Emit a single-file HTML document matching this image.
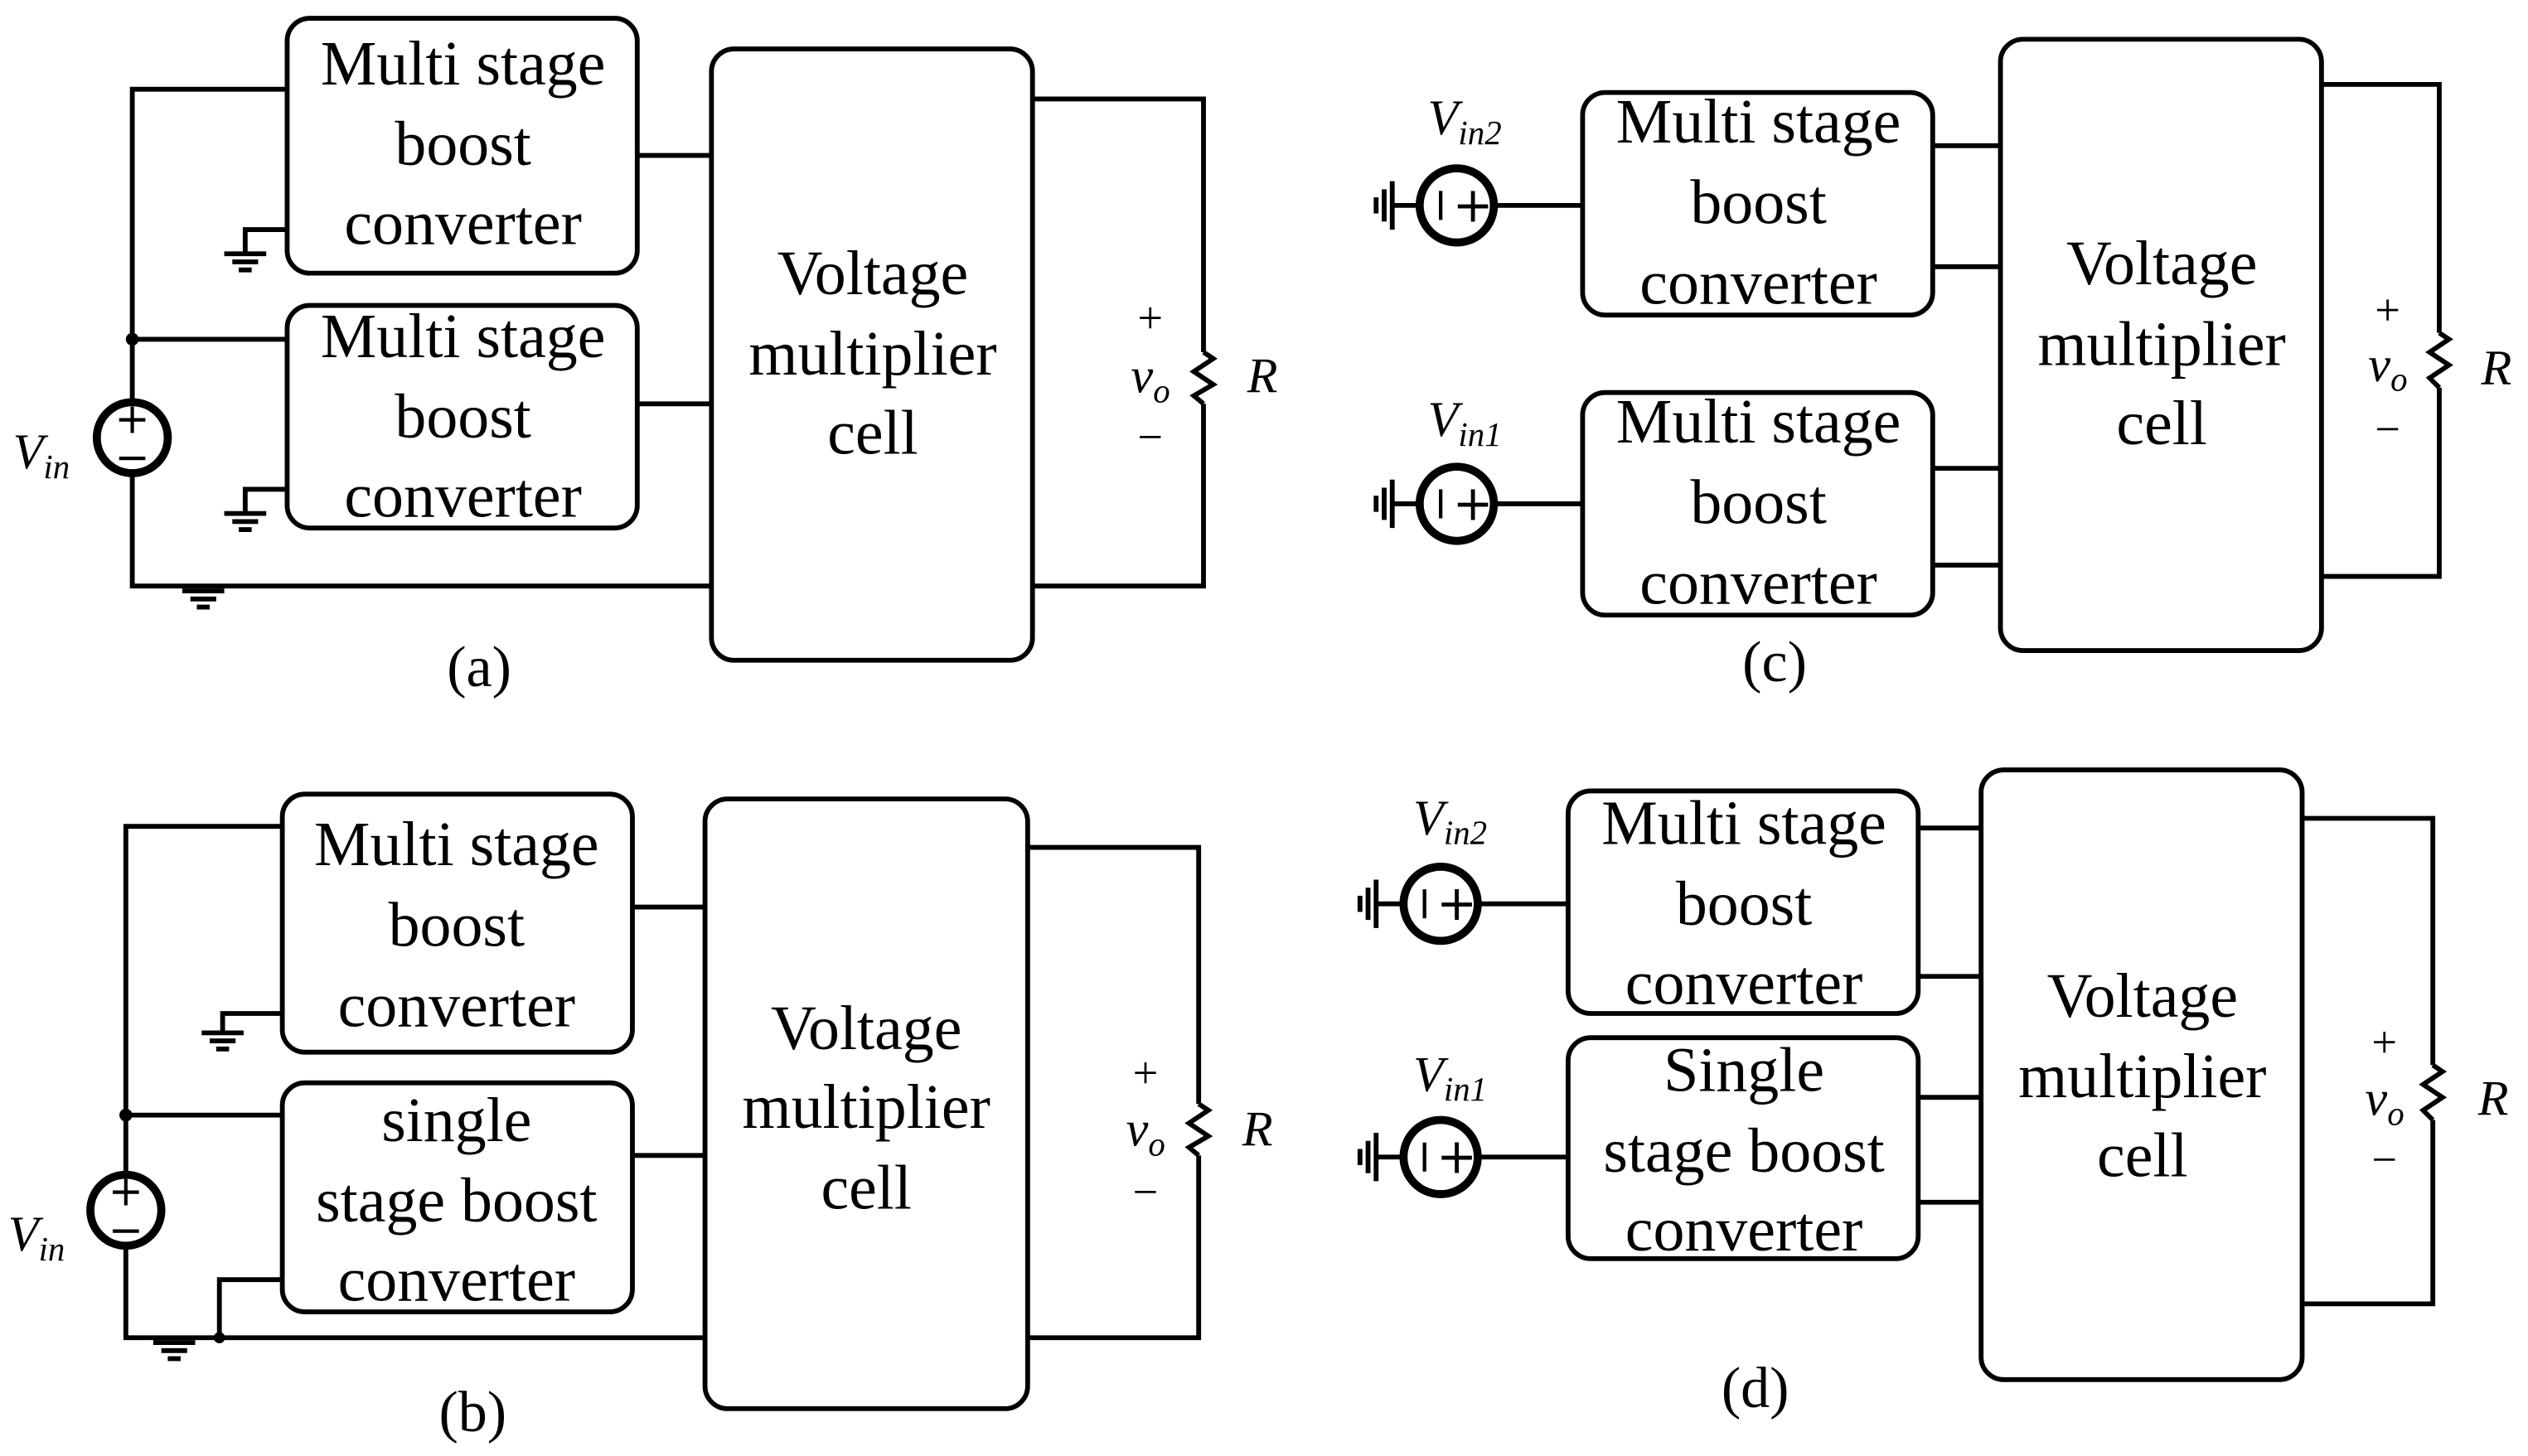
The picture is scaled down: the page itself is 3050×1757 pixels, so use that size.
<!DOCTYPE html>
<html><head><style>html,body{margin:0;padding:0;background:#fff}svg{display:block}</style></head>
<body>
<svg width="3050" height="1757" viewBox="0 0 1567 902" xmlns="http://www.w3.org/2000/svg" font-family="'Liberation Serif',serif">
<defs>
<g id="gnd"><line x1="-13" y1="0" x2="13" y2="0"/><line x1="-8" y1="5" x2="8" y2="5"/><line x1="-4" y1="10" x2="4" y2="10"/></g>
<g id="lg"><line x1="0" y1="-15" x2="0" y2="15"/><line x1="-5" y1="-10" x2="-5" y2="10"/><line x1="-10" y1="-5" x2="-10" y2="5"/></g>
</defs>
<g fill="none" stroke="#000" stroke-width="3">
<!-- (a) -->
<rect x="178" y="11" width="217" height="158" rx="14"/>
<rect x="178" y="189" width="217" height="138" rx="14"/>
<rect x="441" y="30" width="199" height="379" rx="14"/>
<polyline points="178,55 82,55 82,249"/>
<line x1="82" y1="210" x2="178" y2="210"/>
<polyline points="82,293 82,363 441,363"/>
<line x1="395" y1="96" x2="441" y2="96"/><line x1="395" y1="250" x2="441" y2="250"/>
<polyline points="640,61 746,61 746,218"/><polyline points="746,250 746,363 640,363"/>
<polyline points="746,218 752,222 740,230 752,238 740,245 746,250"/>
<polyline points="178,142 152,142 152,157"/><use href="#gnd" x="152" y="157"/>
<polyline points="178,303 152,303 152,318"/><use href="#gnd" x="152" y="318"/>
<use href="#gnd" x="126" y="366"/>
<circle cx="82" cy="271" r="22" stroke-width="5"/>
<!-- (b) -->
<rect x="175" y="492" width="217" height="160" rx="14"/>
<rect x="175" y="671" width="217" height="142" rx="14"/>
<rect x="437" y="495" width="200" height="378" rx="14"/>
<polyline points="175,512 78,512 78,728"/>
<line x1="78" y1="691" x2="175" y2="691"/>
<polyline points="78,772 78,829 437,829"/>
<polyline points="136,829 136,793 175,793"/>
<line x1="392" y1="562" x2="437" y2="562"/><line x1="392" y1="716" x2="437" y2="716"/>
<polyline points="637,525 743,525 743,684"/><polyline points="743,716 743,829 637,829"/>
<polyline points="743,684 749,688 737,696 749,704 737,711 743,716"/>
<polyline points="175,628 138,628 138,640"/><use href="#gnd" x="138" y="640"/>
<use href="#gnd" x="108" y="832"/>
<circle cx="78" cy="750" r="22" stroke-width="5"/>
<!-- (c) -->
<rect x="981" y="57" width="217" height="138" rx="14"/>
<rect x="981" y="243" width="217" height="138" rx="14"/>
<rect x="1240" y="24" width="199" height="379" rx="14"/>
<line x1="1198" y1="90" x2="1240" y2="90"/><line x1="1198" y1="165" x2="1240" y2="165"/>
<line x1="1198" y1="290" x2="1240" y2="290"/><line x1="1198" y1="350" x2="1240" y2="350"/>
<polyline points="1439,52 1512,52 1512,206"/><polyline points="1512,240 1512,357 1439,357"/>
<polyline points="1512,206 1518,210 1506,218 1518,226 1506,234 1512,240"/>
<circle cx="903" cy="127" r="23" stroke-width="5"/><line x1="927" y1="127" x2="981" y2="127"/>
<line x1="863" y1="127" x2="880" y2="127"/><use href="#lg" x="863" y="127"/>
<circle cx="903" cy="312" r="23" stroke-width="5"/><line x1="927" y1="312" x2="981" y2="312"/>
<line x1="863" y1="312" x2="880" y2="312"/><use href="#lg" x="863" y="312"/>
<!-- (d) -->
<rect x="972" y="490" width="217" height="138" rx="14"/>
<rect x="972" y="643" width="217" height="137" rx="14"/>
<rect x="1228" y="477" width="199" height="378" rx="14"/>
<line x1="1189" y1="513" x2="1228" y2="513"/><line x1="1189" y1="605" x2="1228" y2="605"/>
<line x1="1189" y1="680" x2="1228" y2="680"/><line x1="1189" y1="745" x2="1228" y2="745"/>
<polyline points="1427,507 1508,507 1508,660"/><polyline points="1508,694 1508,808 1427,808"/>
<polyline points="1508,660 1514,664 1502,672 1514,680 1502,688 1508,694"/>
<circle cx="893" cy="560" r="23" stroke-width="5"/><line x1="917" y1="560" x2="972" y2="560"/>
<line x1="853" y1="560" x2="870" y2="560"/><use href="#lg" x="853" y="560"/>
<circle cx="893" cy="717" r="23" stroke-width="5"/><line x1="917" y1="717" x2="972" y2="717"/>
<line x1="853" y1="717" x2="870" y2="717"/><use href="#lg" x="853" y="717"/>
</g>
<g stroke="#000" stroke-width="2.2">
<line x1="893" y1="118" x2="893" y2="136"/><line x1="893" y1="303" x2="893" y2="321"/>
<line x1="883" y1="551" x2="883" y2="569"/><line x1="883" y1="708" x2="883" y2="726"/>
</g>
<circle cx="82" cy="210" r="4"/><circle cx="78" cy="691" r="4"/><circle cx="136" cy="829" r="3.5"/>
<g font-size="39" text-anchor="middle">
<text x="287" y="52">Multi stage</text><text x="287" y="102">boost</text><text x="287" y="151">converter</text>
<text x="287" y="221">Multi stage</text><text x="287" y="271">boost</text><text x="287" y="320">converter</text>
<text x="541" y="182">Voltage</text><text x="541" y="232">multiplier</text><text x="541" y="281">cell</text>
<text x="297" y="425" font-size="36">(a)</text>
<text x="283" y="536">Multi stage</text><text x="283" y="586">boost</text><text x="283" y="636">converter</text>
<text x="283" y="707">single</text><text x="283" y="757">stage boost</text><text x="283" y="806">converter</text>
<text x="537" y="650">Voltage</text><text x="537" y="699">multiplier</text><text x="537" y="749">cell</text>
<text x="293" y="887" font-size="36">(b)</text>
<text x="1090" y="88">Multi stage</text><text x="1090" y="138">boost</text><text x="1090" y="188">converter</text>
<text x="1090" y="274">Multi stage</text><text x="1090" y="324">boost</text><text x="1090" y="374">converter</text>
<text x="1340" y="176">Voltage</text><text x="1340" y="226">multiplier</text><text x="1340" y="275">cell</text>
<text x="1100" y="422" font-size="36">(c)</text>
<text x="1081" y="523">Multi stage</text><text x="1081" y="573">boost</text><text x="1081" y="622">converter</text>
<text x="1081" y="676">Single</text><text x="1081" y="726">stage boost</text><text x="1081" y="775">converter</text>
<text x="1328" y="630">Voltage</text><text x="1328" y="680">multiplier</text><text x="1328" y="729">cell</text>
<text x="1088" y="872" font-size="36">(d)</text>
</g>
<g font-size="30" text-anchor="middle" font-family="'DejaVu Sans',sans-serif">
<text x="82" y="268" font-size="26">+</text><text x="82" y="292" font-size="26">−</text>
<text x="78" y="747" font-size="26">+</text><text x="78" y="771" font-size="26">−</text>
<text x="913" y="137">+</text><text x="913" y="322">+</text><text x="903" y="570">+</text><text x="903" y="727">+</text>
</g>
<g font-size="28" text-anchor="middle">
<text x="713" y="206">+</text><text x="713" y="280">−</text>
<text x="710" y="674">+</text><text x="710" y="748">−</text>
<text x="1480" y="201">+</text><text x="1480" y="275">−</text>
<text x="1478" y="655">+</text><text x="1478" y="728">−</text>
</g>
<g font-size="31" font-style="italic">
<text x="8" y="290">V<tspan font-size="21" dy="6">in</tspan></text>
<text x="5" y="775">V<tspan font-size="21" dy="6">in</tspan></text>
<text x="701" y="243">v<tspan font-size="21" dy="6">o</tspan></text>
<text x="698" y="710">v<tspan font-size="21" dy="6">o</tspan></text>
<text x="1468" y="236">v<tspan font-size="21" dy="6">o</tspan></text>
<text x="1466" y="691">v<tspan font-size="21" dy="6">o</tspan></text>
<text x="773" y="243">R</text><text x="770" y="710">R</text><text x="1538" y="238">R</text><text x="1536" y="691">R</text>
<text x="885" y="83">V<tspan font-size="21" dy="6">in2</tspan></text>
<text x="885" y="270">V<tspan font-size="21" dy="6">in1</tspan></text>
<text x="876" y="517">V<tspan font-size="21" dy="6">in2</tspan></text>
<text x="876" y="676">V<tspan font-size="21" dy="6">in1</tspan></text>
</g>
</svg>
</body></html>
